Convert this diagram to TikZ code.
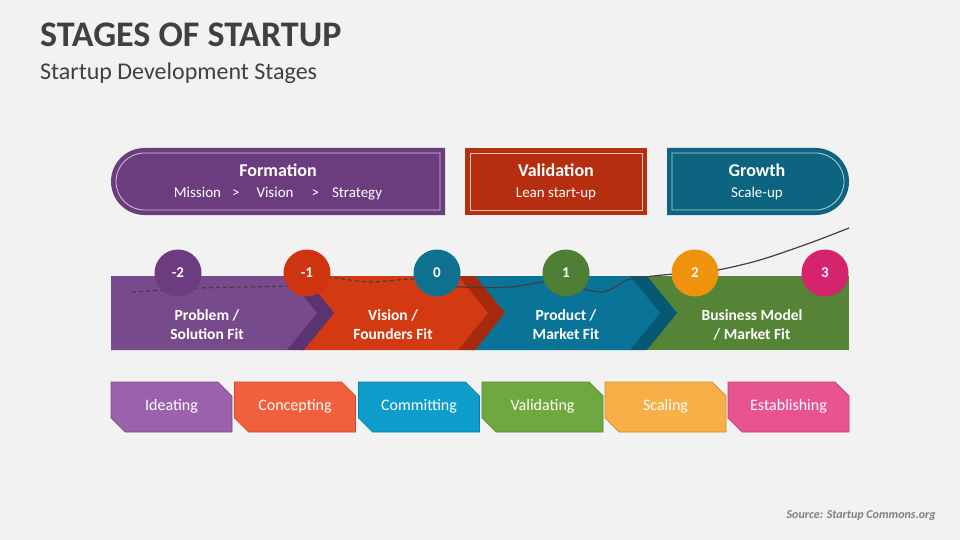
\documentclass[tikz,border=0pt]{standalone}
\usepackage{fontspec}
\setmainfont{Carlito}
\usetikzlibrary{shapes.misc}

\definecolor{bg}{HTML}{F2F2F2}
\definecolor{ink}{HTML}{404040}
\definecolor{formC}{HTML}{6B3D7E}
\definecolor{valC}{HTML}{B62E10}
\definecolor{growC}{HTML}{0C6481}
\definecolor{bandA}{HTML}{774A8B}
\definecolor{shadeA}{HTML}{5A3370}
\definecolor{bandB}{HTML}{D43A12}
\definecolor{shadeB}{HTML}{A52A0E}
\definecolor{bandC}{HTML}{0A7498}
\definecolor{shadeC}{HTML}{075873}
\definecolor{bandD}{HTML}{568436}
\definecolor{numA}{HTML}{6C3B80}
\definecolor{numB}{HTML}{CE3410}
\definecolor{numC}{HTML}{0E7190}
\definecolor{numD}{HTML}{4F7F34}
\definecolor{numE}{HTML}{EF920E}
\definecolor{numF}{HTML}{D6236E}
\definecolor{ideC}{HTML}{9B62AB}
\definecolor{conC}{HTML}{F15F3C}
\definecolor{comC}{HTML}{0E9CCB}
\definecolor{valiC}{HTML}{6EA83F}
\definecolor{scaC}{HTML}{F8AF48}
\definecolor{estC}{HTML}{E8548F}

\begin{document}
\begin{tikzpicture}[x=1pt,y=-1pt,
    frame/.style={draw=white, line width=0.8pt, opacity=0.7},
    head/.style={text=white, align=center, font=\fontsize{15}{21}\selectfont},
    num/.style={circle, minimum size=47pt, inner sep=0pt, text=white,
      font=\bfseries\fontsize{15}{18}\selectfont},
    bandtext/.style={text=white, align=center, font=\bfseries\fontsize{15.5}{19}\selectfont},
    tabbox/.style={chamfered rectangle, chamfered rectangle corners={north east,south west},
      chamfered rectangle xsep=7pt, chamfered rectangle ysep=7pt,
      minimum width=121pt, minimum height=50pt, inner sep=0pt, line width=0.7pt,
      text=white, font=\fontsize{16}{18}\selectfont}]
    \useasboundingbox (0,0) rectangle (960,540);
    \fill[bg] (0,0) rectangle (960,540);

    % title
    \node[anchor=west, inner sep=0pt, text=ink, font=\bfseries\fontsize{36}{40}\selectfont]
        (title) at (40,35) {STAGES OF STARTUP};
    \node[anchor=west, inner sep=0pt, text=ink, font=\fontsize{24}{28}\selectfont]
        (subtitle) at (40,73) {Startup Development Stages};

    % phase boxes
    \fill[formC] (445,148) -- (144.5,148) arc[start angle=270, end angle=90, radius=33.5] -- (445,215) -- cycle;
    \draw[frame] (440,153) -- (144.5,153) arc[start angle=270, end angle=90, radius=28.5] -- (440,210) -- cycle;
    \node[head] (formation) at (278,182) {{\bfseries\fontsize{18}{21}\selectfont Formation}\\
        Mission\hspace{11pt}>\hspace{17pt}Vision\hspace{18pt}>\hspace{13pt}Strategy};

    \fill[valC] (465,148) rectangle (647,215);
    \draw[frame] (470,153) rectangle (642,210);
    \node[head] (validation) at (556,182) {{\bfseries\fontsize{18}{21}\selectfont Validation}\\Lean start-up};

    \fill[growC] (667,148) -- (815.5,148) arc[start angle=-90, end angle=90, radius=33.5] -- (667,215) -- cycle;
    \draw[frame] (672,153) -- (815.5,153) arc[start angle=-90, end angle=90, radius=28.5] -- (672,210) -- cycle;
    \node[head] (growth) at (757,182) {{\bfseries\fontsize{18}{21}\selectfont Growth}\\Scale-up};

    % chevron band
    \fill[bandD] (640,276) rectangle (849,350);
    \fill[shadeC] (630,276) -- (647,276) -- (677,313) -- (647,350) -- (630,350) -- cycle;
    \fill[bandC] (470,276) -- (630,276) -- (660,313) -- (630,350) -- (470,350) -- cycle;
    \fill[shadeB] (458,276) -- (475,276) -- (505,313) -- (475,350) -- (458,350) -- cycle;
    \fill[bandB] (300,276) -- (458,276) -- (488,313) -- (458,350) -- (300,350) -- cycle;
    \fill[shadeA] (287,276) -- (304,276) -- (334,313) -- (304,350) -- (287,350) -- cycle;
    \fill[bandA] (111,276) -- (287,276) -- (317,313) -- (287,350) -- (111,350) -- cycle;

    \node[bandtext] (problem) at (207,325) {Problem /\\Solution Fit};
    \node[bandtext] (vision) at (393,325) {Vision /\\Founders Fit};
    \node[bandtext] (product) at (566,325) {Product /\\Market Fit};
    \node[bandtext] (business) at (752,325) {Business Model\\/ Market Fit};

    % growth curve
    \draw[ink, line width=1.2pt, dash pattern=on 4pt off 3pt]
        plot[smooth] coordinates {(132,292) (200,288) (285,286) (307,282) (332,278) (370,282) (412,279) (437,283)};
    \draw[ink, line width=1.2pt]
        plot[smooth] coordinates {(437,283) (460,287) (510,287) (543,282) (566,283) (587,290) (603,292)
        (613,288) (627,280) (645,277) (673,274) (695,272) (718,270) (760,260) (810,243) (849,228)};

    % numbers
    \node[num, fill=numA] (m2) at (178,273) {-2};
    \node[num, fill=numB] (m1) at (307,273) {-1};
    \node[num, fill=numC] (z0) at (437,273) {0};
    \node[num, fill=numD] (p1) at (566,273) {1};
    \node[num, fill=numE] (p2) at (695,273) {2};
    \node[num, fill=numF] (p3) at (825,273) {3};

    % stage tabs
    \node[tabbox, fill=ideC, draw=ideC!80!black] (ideating) at (171.5,407) {\strut Ideating};
    \node[tabbox, fill=conC, draw=conC!80!black] (concepting) at (295,407) {\strut Concepting};
    \node[tabbox, fill=comC, draw=comC!80!black] (committing) at (419,407) {\strut Committing};
    \node[tabbox, fill=valiC, draw=valiC!80!black] (validating) at (542.5,407) {\strut Validating};
    \node[tabbox, fill=scaC, draw=scaC!80!black] (scaling) at (665.5,407) {\strut Scaling};
    \node[tabbox, fill=estC, draw=estC!80!black] (establishing) at (788.5,407) {\strut Establishing};

    \node[anchor=east, inner sep=0pt, text=black!50, font=\bfseries\itshape\fontsize{12}{14}\selectfont]
        (source) at (936,516) {Source: Startup Commons.org};
\end{tikzpicture}
\end{document}
